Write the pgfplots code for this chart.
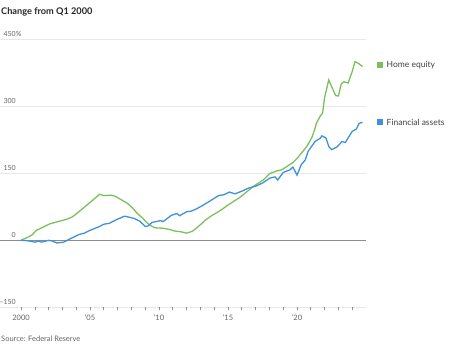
\documentclass[border=0pt]{standalone}
\usepackage{pgfplots}
\pgfplotsset{compat=1.18}
\usepackage{fontspec}
\setmainfont{Lato}
\definecolor{homegreen}{RGB}{122,192,92}
\definecolor{finblue}{RGB}{62,146,218}
\definecolor{labgray}{RGB}{100,100,100}
\definecolor{gridgray}{RGB}{232,232,232}
\definecolor{zerogray}{RGB}{140,140,140}
\pgfplotstableread{
year val
2000.0 0
2000.5 7
2000.8 12
2001.1 22
2001.5 28
2002.1 37
2002.7 42
2003.3 47
2003.7 52
2004.2 64
2004.7 77
2005.2 90
2005.7 103
2006.0 100
2006.5 101
2006.8 99
2007.2 92
2007.7 83
2008.1 72
2008.4 61
2008.8 50
2009.1 40
2009.4 33
2009.7 28
2010.3 27
2010.8 24
2011.1 21
2011.6 19
2012.0 16
2012.4 20
2012.7 27
2013.0 35
2013.4 46
2013.8 55
2014.2 62
2014.6 70
2014.9 77
2015.4 87
2015.8 95
2016.1 102
2016.5 112
2016.8 120
2017.2 128
2017.55 135
2018.0 149
2018.5 155
2018.9 158
2019.25 165
2019.7 174
2020.0 183
2020.2 191
2020.5 202
2020.7 210
2020.9 220
2021.1 232
2021.3 250
2021.4 262
2021.7 279
2021.85 284
2022.0 320
2022.1 333
2022.3 359
2022.55 341
2022.8 324
2023.0 323
2023.2 350
2023.4 355
2023.7 352
2024.0 378
2024.2 400
2024.5 395
2024.75 389
}\homeequity
\pgfplotstableread{
year val
2000.0 0
2000.5 -1
2001.0 -4
2001.25 -2
2001.5 -4
2002.0 0
2002.3 -2
2002.6 -6
2003.1 -4
2003.55 3
2004.2 13
2004.6 16
2004.9 21
2005.3 26
2005.7 31
2006.0 36
2006.4 38
2006.9 46
2007.5 54
2007.8 52
2008.2 49
2008.6 43
2009.0 31
2009.2 32
2009.5 40
2010.1 44
2010.3 42
2010.9 56
2011.3 60
2011.5 55
2012.0 64
2012.3 65
2012.7 70
2013.1 77
2013.7 88
2014.3 100
2014.7 102
2015.1 108
2015.5 104
2016.0 110
2016.5 117
2017.0 121
2017.55 129
2018.0 139
2018.4 142
2018.6 135
2019.0 152
2019.5 158
2019.7 164
2020.0 146
2020.3 169
2020.6 180
2020.8 199
2021.3 221
2021.7 229
2021.8 234
2022.1 229
2022.3 210
2022.5 203
2022.9 209
2023.25 221
2023.5 219
2024.0 244
2024.3 249
2024.5 262
2024.75 264
}\finassets
\begin{document}
\begin{tikzpicture}[x=1pt,y=1pt]
\useasboundingbox (0,0) rectangle (470,353);
\begin{axis}[
  at={(0pt,45.7pt)}, anchor=south west,
  scale only axis, width=365.7pt, height=268pt,
  xmin=1998.478, xmax=2024.977,
  ymin=-150, ymax=450,
  axis line style={draw=none},
  ytick={-150,0,150,300,450},
  yticklabels={{\mbox{\textendash150}},{\mbox{0}},{\mbox{150}},{\mbox{300}},{\mbox{450\rlap{\%}}}},
  yticklabel style={anchor=base east, inner sep=0pt, xshift=19pt, yshift=3pt, font=\fontsize{7}{8}\selectfont, text=labgray},
  ytick style={draw=none},
  ymajorgrids, grid style={gridgray, line width=0.8pt},
  xtick={2000,...,2024},
  xticklabels={{\mbox{2000}},,,,,{\mbox{’05}},,,,,{\mbox{’10}},,,,,{\mbox{’15}},,,,,{\mbox{’20}},,,,},
  xtick pos=bottom, tick align=outside, major tick length=3pt,
  xtick style={draw=zerogray, line width=0.6pt},
  xticklabel style={font=\fontsize{7.5}{9}\selectfont, text=labgray, yshift=-1pt},
  clip=false,
]
\addplot[zerogray, line width=1.1pt, forget plot] coordinates {(1998.478,0) (2024.977,0)};
\addplot[homegreen, line width=1.3pt] table[x=year,y=val] {\homeequity};
\addplot[finblue, line width=1.3pt] table[x=year,y=val] {\finassets};
\end{axis}
\node[anchor=west, inner sep=0pt, font=\bfseries\fontsize{9.2}{11}\selectfont, text=black!85] at (1,341) {Change from Q1 2000};
\node[anchor=west, inner sep=0pt, font=\fontsize{7.5}{9}\selectfont, text=labgray] at (1,14) {Source: Federal Reserve};
\fill[homegreen] (376.5,285) rectangle (382.5,291);
\node[anchor=west, inner sep=0pt, font=\fontsize{8.5}{10}\selectfont, text=black!75] at (386.5,288) {Home equity};
\fill[finblue] (376.5,228) rectangle (382.5,234);
\node[anchor=west, inner sep=0pt, font=\fontsize{8.5}{10}\selectfont, text=black!75] at (386.5,231) {Financial assets};
\end{tikzpicture}
\end{document}
